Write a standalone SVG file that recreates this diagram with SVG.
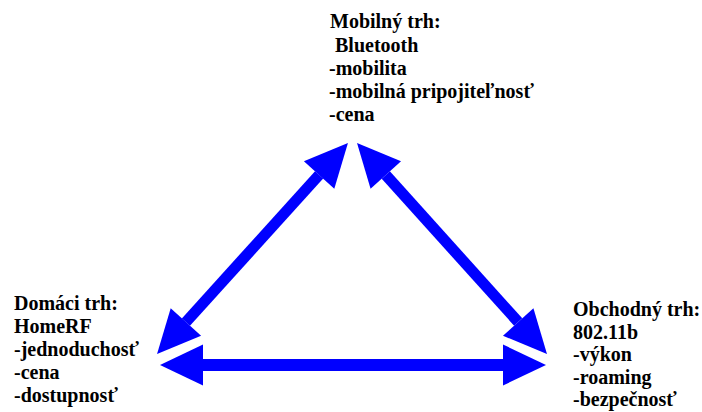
<svg xmlns="http://www.w3.org/2000/svg" width="702" height="412" viewBox="0 0 702 412">
  <style>
    .lbl { font-family: "Liberation Serif", "Times New Roman", serif; font-weight: bold; font-size: 20px; fill: #000; }
    .link { stroke: #0000FF; fill: none; stroke-linecap: butt; }
  </style>
  <defs>
    <marker id="head" markerUnits="userSpaceOnUse" markerWidth="44" markerHeight="42"
            viewBox="0 -21 44 42" refX="0" refY="0" orient="auto-start-reverse" overflow="visible">
      <path d="M0,-20.5 L43,0 L0,20.5 Z" fill="#0000FF"/>
    </marker>
  </defs>
  <rect width="702" height="412" fill="#fff"/>

  <!-- two-way connectors between the three markets -->
  <g id="connectors">
    <line class="link" x1="185.9" y1="322.1" x2="319.1" y2="174.9" stroke-width="11" marker-start="url(#head)" marker-end="url(#head)"/>
    <line class="link" x1="385.8" y1="175" x2="518.2" y2="322" stroke-width="11" marker-start="url(#head)" marker-end="url(#head)"/>
    <line class="link" x1="203" y1="365" x2="503" y2="365" stroke-width="12" marker-start="url(#head)" marker-end="url(#head)"/>
  </g>

  <!-- mobile market -->
  <g id="mobile">
    <text class="lbl" x="330" y="28">Mobilný trh:</text>
    <text class="lbl" x="330" y="52" xml:space="preserve"> Bluetooth</text>
    <text class="lbl" x="329" y="75">-mobilita</text>
    <text class="lbl" x="329" y="98">-mobilná pripojiteľnosť</text>
    <text class="lbl" x="329" y="121">-cena</text>
  </g>

  <!-- home market -->
  <g id="home">
    <text class="lbl" x="14" y="310">Domáci trh:</text>
    <text class="lbl" x="14" y="333">HomeRF</text>
    <text class="lbl" x="14" y="356">-jednoduchosť</text>
    <text class="lbl" x="14" y="379">-cena</text>
    <text class="lbl" x="14" y="402">-dostupnosť</text>
  </g>

  <!-- business market -->
  <g id="business">
    <text class="lbl" x="573" y="316">Obchodný trh:</text>
    <text class="lbl" x="573" y="339">802.11b</text>
    <text class="lbl" x="573" y="361">-výkon</text>
    <text class="lbl" x="573" y="384">-roaming</text>
    <text class="lbl" x="573" y="406">-bezpečnosť</text>
  </g>
</svg>
